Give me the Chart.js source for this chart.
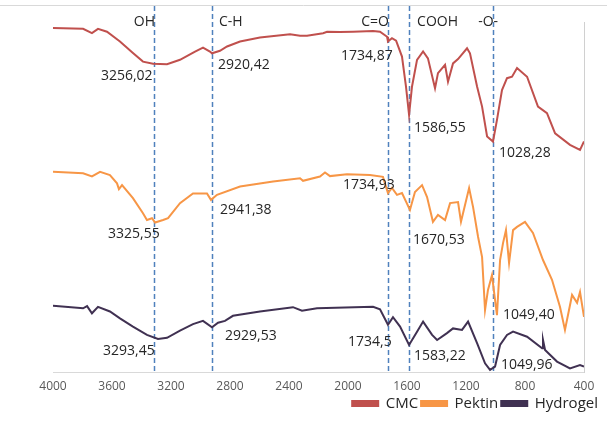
<!DOCTYPE html>
<html>
<head>
<meta charset="utf-8">
<script src="https://cdn.jsdelivr.net/npm/chart.js@4.4.1/dist/chart.umd.min.js"></script>
<style>
  html, body { margin: 0; padding: 0; background: #fff; }
  canvas { display: block; }
</style>
</head>
<body>
<canvas id="ftirChart" width="607" height="421"></canvas>
<script>
// FTIR spectra: wavenumber (cm-1) vs transmittance (offset, arbitrary units)
const cmcWavenumbers = [4000, 3796, 3736, 3695, 3634, 3546, 3458, 3390, 3322, 3227, 3139, 3037, 2983, 2936, 2922, 2868, 2820, 2732, 2597, 2393, 2325, 2278, 2169, 2142, 2054, 1966, 1830, 1783, 1735, 1729, 1702, 1674, 1634, 1607, 1586, 1566, 1532, 1491, 1458, 1410, 1390, 1342, 1322, 1288, 1254, 1193, 1173, 1125, 1091, 1057, 1017, 990, 956, 922, 888, 854, 786, 712, 651, 596, 495, 427, 400];
const cmcValues = [95.5, 95.3, 94.1, 95.3, 94.5, 91.8, 88.6, 86.2, 85.6, 85.5, 86.7, 89.0, 90.1, 89.0, 88.5, 89.2, 90.4, 91.8, 92.9, 93.8, 93.4, 93.4, 94.1, 94.5, 94.4, 94.5, 94.7, 94.5, 93.1, 91.8, 92.7, 92.0, 87.6, 79.3, 71.4, 79.3, 86.7, 89.0, 87.1, 78.8, 83.0, 85.3, 80.6, 85.7, 86.9, 89.9, 88.5, 79.3, 73.7, 65.4, 64.0, 70.0, 78.3, 81.6, 82.0, 84.4, 82.0, 73.7, 71.9, 66.3, 63.1, 61.7, 64.0];

const pektinWavenumbers = [4000, 3796, 3736, 3681, 3614, 3566, 3553, 3532, 3458, 3390, 3363, 3329, 3308, 3254, 3220, 3139, 3051, 2956, 2929, 2888, 2732, 2508, 2325, 2305, 2190, 2156, 2122, 2007, 1851, 1763, 1729, 1702, 1668, 1634, 1580, 1546, 1498, 1464, 1424, 1390, 1342, 1308, 1254, 1234, 1179, 1152, 1118, 1091, 1071, 1051, 1024, 1003, 990, 969, 949, 929, 908, 881, 854, 800, 746, 678, 617, 563, 529, 481, 447, 427, 400];
const pektinValues = [55.6, 55.2, 54.3, 55.6, 54.7, 52.4, 50.8, 51.9, 48.3, 44.1, 42.2, 42.7, 41.5, 42.2, 42.7, 46.9, 49.6, 49.6, 47.8, 49.2, 51.5, 52.9, 53.8, 53.1, 54.3, 55.4, 54.4, 54.9, 54.7, 54.2, 49.7, 51.1, 49.2, 49.7, 45.0, 50.0, 51.9, 48.6, 41.7, 43.6, 42.2, 46.9, 47.2, 41.7, 51.1, 45.8, 37.5, 31.9, 17.2, 22.8, 26.9, 20.0, 15.8, 31.1, 35.8, 39.4, 30.3, 39.4, 40.3, 41.7, 38.6, 31.1, 25.6, 18.1, 11.7, 21.4, 19.2, 22.2, 15.3];

const hydrogelWavenumbers = [4000, 3796, 3769, 3736, 3695, 3614, 3546, 3458, 3363, 3288, 3227, 3139, 3051, 2983, 2922, 2881, 2834, 2780, 2597, 2373, 2312, 2210, 1830, 1783, 1729, 1695, 1647, 1586, 1532, 1491, 1430, 1396, 1329, 1288, 1227, 1186, 1125, 1071, 1037, 1003, 969, 922, 881, 786, 684, 678, 664, 583, 495, 427, 400];
const hydrogelValues = [18.4, 17.7, 18.3, 16.3, 18.1, 16.8, 14.9, 12.6, 10.3, 9.2, 9.5, 11.5, 13.3, 14.2, 12.4, 13.7, 14.2, 15.6, 16.8, 18.0, 17.0, 17.7, 18.1, 17.4, 13.1, 15.2, 12.6, 7.5, 11.2, 14.0, 10.3, 8.9, 10.8, 12.1, 11.7, 14.0, 8.0, 2.4, 0.6, 1.5, 7.5, 10.3, 11.2, 9.8, 6.6, 8.9, 6.1, 2.9, 1.0, 1.9, 1.5];

const xTickValues = [4000, 3600, 3200, 2800, 2400, 2000, 1600, 1200, 800, 400];

// functional group bands (dashed lines) and their names
const bandWavenumbers = [3315, 2922, 1729, 1586, 1016];
const bandNames = ["OH", "C-H", "C=O", "COOH", "-O-"];

// peak labels: text, and where the text starts (wavenumber, value)
const peakLabels = [
  ["3256,02", 3675, 82.1], ["2920,42", 2881, 85.3], ["1734,87", 2047, 87.8], ["1586,55", 1552, 67.8], ["1028,28", 976, 60.8],
  ["3325,55", 3627, 38.3], ["2941,38", 2868, 45.0], ["1734,93", 2034, 51.9], ["1670,53", 1559, 36.7], ["1049,40", 949, 15.8],
  ["3293,45", 3661, 5.8], ["2929,53", 2834, 10.0], ["1734,5", 2000, 8.3], ["1583,22", 1552, 4.4], ["1049,96", 963, 1.9]
];

const toPoints = (xs, ys) => xs.map((x, i) => ({ x: x, y: ys[i] }));

const FONT = "'Open Sans', 'DejaVu Sans', sans-serif";
// name placement relative to its dashed line: [align, dx]
const bandNameAlign = [["right", 1], ["left", 7], ["right", 1], ["left", 8], ["center", -5]];

const ftirOverlay = {
  id: "ftirOverlay",
  beforeDatasetsDraw(chart) {
    const { ctx, chartArea, scales } = chart;
    ctx.save();
    ctx.strokeStyle = "#d9d9d9";
    ctx.lineWidth = 1;
    ctx.beginPath();
    ctx.moveTo(0, 5.5);
    ctx.lineTo(chart.width, 5.5);
    ctx.stroke();

    ctx.strokeStyle = "#4f81bd";
    ctx.lineWidth = 1.5;
    ctx.setLineDash([5, 3]);
    bandWavenumbers.forEach(w => {
      const x = Math.round(scales.x.getPixelForValue(w)) + 0.5;
      ctx.beginPath();
      ctx.moveTo(x, 6);
      ctx.lineTo(x, chartArea.bottom);
      ctx.stroke();
    });
    ctx.restore();
  },
  afterDatasetsDraw(chart) {
    const { ctx, scales } = chart;
    ctx.save();
    ctx.fillStyle = "#262626";
    ctx.font = "14px " + FONT;
    ctx.textBaseline = "middle";
    bandNames.forEach((name, i) => {
      ctx.textAlign = bandNameAlign[i][0];
      ctx.fillText(name, scales.x.getPixelForValue(bandWavenumbers[i]) + bandNameAlign[i][1], 22);
    });
    ctx.textAlign = "left";
    peakLabels.forEach(([text, w, v]) => {
      ctx.fillText(text, scales.x.getPixelForValue(w), scales.y.getPixelForValue(v));
    });
    ctx.restore();
  }
};

const ctx = document.getElementById("ftirChart").getContext("2d");

const ftirChart = new Chart(ctx, {
  type: "line",
  data: {
    datasets: [
      {
        label: "CMC",
        data: toPoints(cmcWavenumbers, cmcValues),
        borderColor: "#c0504d",
        backgroundColor: "#c0504d",
      },
      {
        label: "Pektin",
        data: toPoints(pektinWavenumbers, pektinValues),
        borderColor: "#f79646",
        backgroundColor: "#f79646",
      },
      {
        label: "Hydrogel",
        data: toPoints(hydrogelWavenumbers, hydrogelValues),
        borderColor: "#403152",
        backgroundColor: "#403152",
      },
    ],
  },
  options: {
    responsive: false,
    animation: false,
    layout: { padding: { left: 53, right: 6, top: 22, bottom: 0 } },
    elements: {
      line: { borderWidth: 2, tension: 0 },
      point: { radius: 0 },
    },
    plugins: {
      tooltip: { enabled: false },
      legend: {
        position: "bottom",
        align: "end",
        labels: {
          boxWidth: 26,
          boxHeight: 5,
          padding: 3,
          color: "#262626",
          font: { family: FONT, size: 15, lineHeight: 1 },
        },
      },
    },
    scales: {
      x: {
        type: "linear",
        reverse: true,
        min: 400,
        max: 4000,
        afterBuildTicks: axis => { axis.ticks = xTickValues.map(v => ({ value: v })); },
        afterFit: axis => { axis.height = 21; },
        ticks: {
          callback: v => String(v),
          color: "#595959",
          padding: 9,
          maxRotation: 0,
          font: { family: FONT, size: 12, lineHeight: 1 },
        },
        grid: { display: false, drawTicks: false },
        border: { color: "#d9d9d9" },
      },
      y: {
        position: "right",
        min: 0,
        max: 97.2,
        ticks: { display: false },
        grid: { display: false, drawTicks: false },
        border: { color: "#d0d0d0" },
        afterFit: axis => { axis.width = 17; },
      },
    },
  },
  plugins: [ftirOverlay],
});
</script>
</body>
</html>
